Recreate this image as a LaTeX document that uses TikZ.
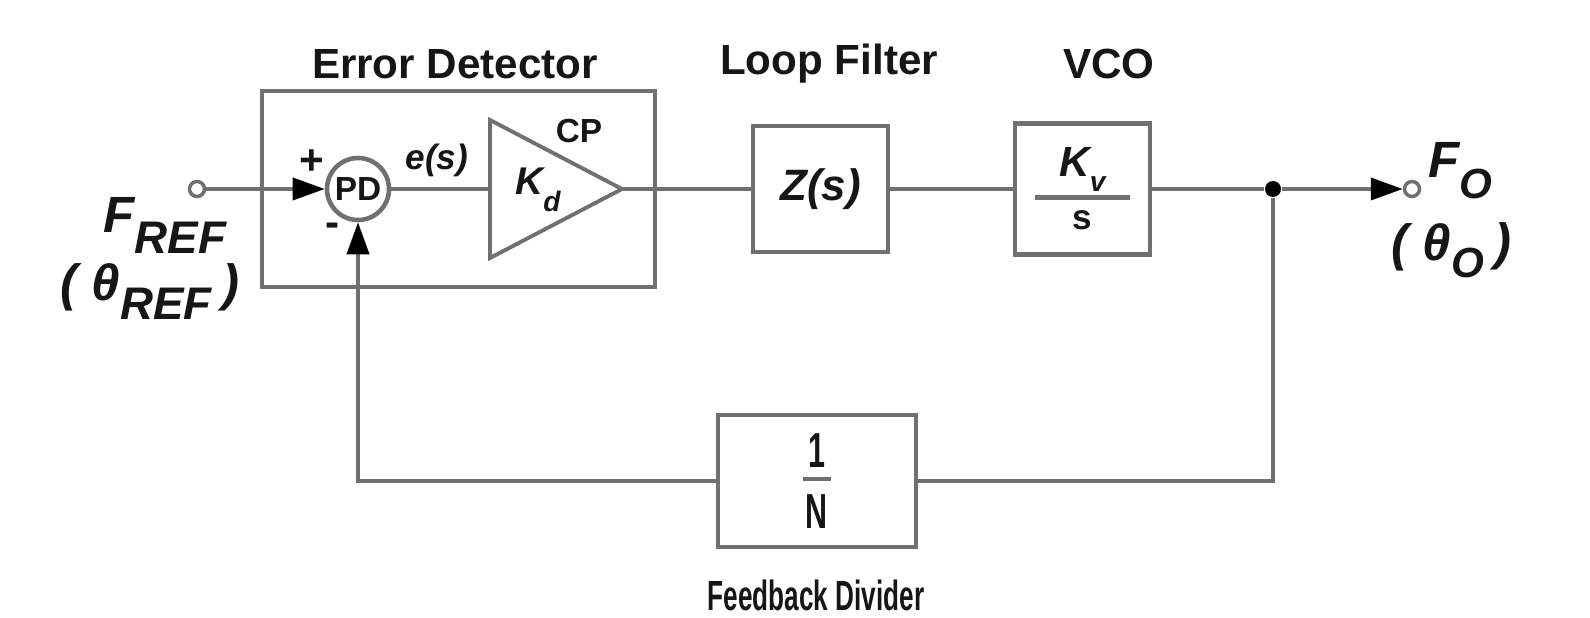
\documentclass[tikz,border=0pt]{standalone}
\usepackage{fontspec}
\setmainfont{Liberation Sans}
\newfontfamily\estrecha[FakeStretch=0.62]{Liberation Sans}
\usetikzlibrary{positioning,arrows.meta}
\definecolor{trazo}{RGB}{112,112,112}
\definecolor{tinta}{RGB}{22,22,22}
\newcommand\tam[1]{\fontsize{#1}{#1}\selectfont}

\begin{document}
\begin{tikzpicture}[
    bloque/.style={draw=trazo, line width=1.3pt, inner sep=0pt, align=center,
                   text=tinta},
    linea/.style={draw=trazo, line width=1.1pt},
    flecha/.style={linea, -{Triangle[length=3.2mm, width=2.2mm, color=black]}},
    borne/.style={circle, draw=trazo, line width=1pt, fill=white,
                  minimum size=1.5mm, inner sep=0pt},
    punto/.style={circle, fill=black, minimum size=1.6mm, inner sep=0pt},
    titulo/.style={text=tinta, font=\bfseries\tam{12}},
    etiqueta/.style={text=tinta, inner sep=0pt, font=\bfseries\tam{10}}]
  \useasboundingbox (0,0) rectangle (15.9,6.17);

  % bloques
  \node[bloque, minimum width=3.93cm, minimum height=1.96cm] (ed) at (4.585,4.28) {};
  \node[bloque, circle, minimum size=6.2mm, fill=white, font=\bfseries\tam{9.5}] (pd) at (3.58,4.28) {PD};
  \coordinate (cpa) at (4.90,4.97);
  \coordinate (cpb) at (4.90,3.59);
  \coordinate (cpe) at (4.90,4.28);
  \coordinate (cpt) at (6.22,4.28);
  \draw[linea] (cpa) -- (cpt) -- (cpb) -- cycle;
  \node[bloque, minimum width=1.35cm, minimum height=1.26cm, font=\bfseries\itshape\tam{12.5}] (zf) at (8.205,4.28) {Z(s)};
  \node[bloque, minimum width=1.35cm, minimum height=1.31cm, font=\bfseries\tam{12}] (vco) at (10.825,4.28)
    {{\itshape K\raisebox{-4pt}{\tam{8}v}}\\[-5.5pt]{\color{trazo}\rule{27pt}{1.3pt}}\\[-3.5pt]{\tam{10}s}};
  \node[bloque, minimum width=1.98cm, minimum height=1.32cm, font=\estrecha\bfseries\tam{14}] (div) at (8.17,1.36)
    {1\\[-10pt]{\color{trazo}\rule{8pt}{1.2pt}}\\[-0.5pt]N};
  \node[borne] (ini) at (1.97,4.28) {};
  \node[borne] (fin) at (14.12,4.28) {};
  \node[punto] (nodo) at (12.73,4.28) {};

  % conexiones
  \draw[flecha] (ini) -- (pd);
  \draw[linea] (pd) -- (cpe);
  \draw[linea] (cpt) -- (zf);
  \draw[linea] (zf) -- (vco);
  \draw[linea] (vco) -- (nodo);
  \draw[flecha] (nodo) -- (fin);
  \draw[linea] (nodo) |- (div);
  \draw[flecha] (div) -| (pd);

  % textos
  \node[titulo] (t1) at (4.55,5.53) {Error Detector};
  \node[titulo] (t2) at (8.29,5.53) {Loop Filter};
  \node[titulo] (t3) at (11.09,5.53) {VCO};
  \node[titulo, font=\estrecha\bfseries\tam{12}] (t4) at (8.16,0.22) {Feedback Divider};
  \node[etiqueta, font=\bfseries\tam{12}] (mas) at (3.12,4.55) {+};
  \node[etiqueta, font=\bfseries\tam{12}] (menos) at (3.33,3.87) {-};
  \node[etiqueta, font=\bfseries\itshape\tam{10}] (err) at (4.37,4.57) {e(s)};
  \node[etiqueta, font=\bfseries\tam{9.5}] (cp) at (5.79,4.86) {CP};
  \node[etiqueta, font=\bfseries\itshape\tam{11}] (kd) at (5.38,4.27) {K\raisebox{-5pt}{\tam{8}d}};
  \node[etiqueta, anchor=base west, font=\bfseries\itshape\tam{14.5}] (fref) at (1.03,3.85)
    {F\raisebox{-6pt}{\tam{13}REF}};
  \node[etiqueta, anchor=base west, font=\bfseries\itshape\tam{14.5}] (tref) at (0.60,3.17)
    {( θ\raisebox{-5.5pt}{\tam{13}REF}\hspace{3pt})};
  \node[etiqueta, anchor=base west, font=\bfseries\itshape\tam{14.5}] (fo) at (14.28,4.40)
    {F\raisebox{-6pt}{\tam{12}O}};
  \node[etiqueta, anchor=base west, font=\bfseries\itshape\tam{14.5}] (to) at (13.91,3.57)
    {( θ\raisebox{-5pt}{\tam{12}O}\hspace{3pt})};
\end{tikzpicture}
\end{document}
